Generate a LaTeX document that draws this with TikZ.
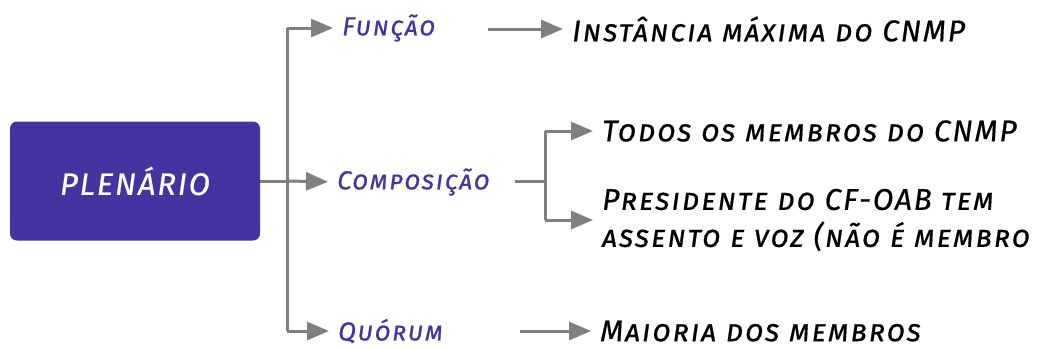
\documentclass[tikz,border=0pt]{standalone}
\usepackage{fontspec}
\setmainfont{Fira Sans}
\newfontfamily\handfont[Letters=SmallCaps,LetterSpace=6,FakeBold=0.6]{Fira Sans}
\usetikzlibrary{arrows.meta}
\definecolor{plenblue}{HTML}{4433A0}
\definecolor{linegray}{HTML}{808080}

\begin{document}
\begin{tikzpicture}[x=1pt,y=-1pt,
  hand/.style={font=\handfont\itshape\fontsize{30}{37}\selectfont, inner sep=0pt, anchor=west, align=left},
  ramo/.style={hand, text=plenblue, font=\handfont\itshape\fontsize{26}{37}\selectfont},
  folha/.style={hand, text=black},
  linha/.style={draw=linegray, line width=3pt},
  seta/.style={linha, -{Triangle[length=22pt,width=18pt]}, shorten >=9pt}]
\useasboundingbox (0,0) rectangle (1040,349);
\node[fill=plenblue, rounded corners=7pt, minimum width=250pt, minimum height=119pt, inner sep=0pt,
  text=white, font=\handfont\itshape\fontsize{31}{34}\selectfont] (plen) at (135,181) {PLENÁRIO};
\coordinate (tronco) at (287,181);
\coordinate (topo) at (287,28);
\coordinate (base) at (287,331);
\node[ramo] (funcao) at (342,28) {Função};
\node[ramo] (compos) at (337,182) {Composição};
\node[ramo] (quorum) at (338,331) {Quórum};
\coordinate (f1) at (488,29);
\coordinate (c1) at (515,181);
\coordinate (cj) at (545,181);
\coordinate (ctopo) at (545,131);
\coordinate (cbase) at (545,220);
\coordinate (q1) at (520,331);
\node[folha] (instancia) at (572,29) {Instância máxima do CNMP};
\node[folha] (todos) at (602,131) {Todos os membros do CNMP};
\node[folha] (presidente) at (602,220) {Presidente do CF-OAB tem\\assento e voz (não é membro};
\node[folha] (maioria) at (600,331) {Maioria dos membros};
\draw[linha] (plen.east) -- (tronco);
\draw[linha] (topo) -- (base);
\draw[seta] (tronco) -- (compos.west);
\draw[seta] (topo) -- (funcao.west);
\draw[seta] (base) -- (quorum.west);
\draw[seta] (f1) -- (instancia.west);
\draw[linha] (c1) -- (cj);
\draw[linha] (ctopo) -- (cbase);
\draw[seta] (ctopo) -- (todos.west);
\draw[seta] (cbase) -- (presidente.west);
\draw[seta] (q1) -- (maioria.west);
\end{tikzpicture}
\end{document}
